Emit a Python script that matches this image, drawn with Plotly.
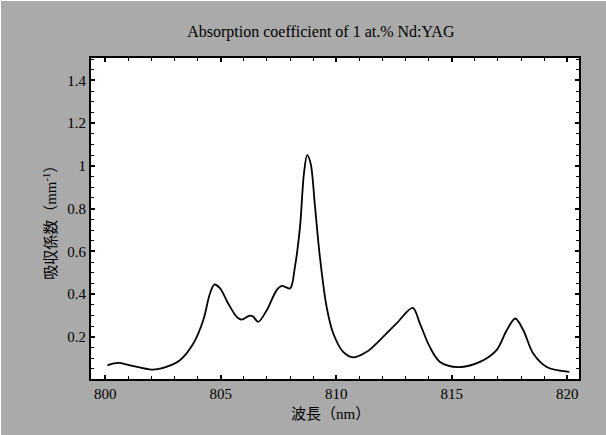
import plotly.graph_objects as go

wavelength_nm = [800.09, 800.56, 801.07, 802.01, 802.51, 803.23, 803.81, 804.24, 804.53, 804.72,
                 804.97, 805.32, 805.69, 805.90, 806.26, 806.41, 806.62, 806.99, 807.42, 807.64,
                 808.00, 808.21, 808.43, 808.60, 808.74, 808.89, 809.08, 809.29, 809.58, 809.87,
                 810.30, 810.74, 811.32, 811.89, 812.61, 813.31, 813.62, 814.05, 814.49, 815.28,
                 816.22, 816.94, 817.38, 817.75, 818.10, 818.53, 819.11, 820.09]
absorption = [0.067, 0.078, 0.067, 0.047, 0.055, 0.091, 0.169, 0.278, 0.403, 0.445,
              0.427, 0.356, 0.294, 0.281, 0.300, 0.294, 0.270, 0.325, 0.419, 0.439,
              0.427, 0.528, 0.715, 0.965, 1.051, 1.012, 0.809, 0.575, 0.341, 0.216,
              0.130, 0.104, 0.130, 0.185, 0.263, 0.336, 0.263, 0.153, 0.083, 0.059,
              0.083, 0.138, 0.231, 0.286, 0.231, 0.122, 0.059, 0.036]

x_tickvals = [800, 805, 810, 815, 820]
x_ticktext = ["800", "805", "810", "815", "820"]
y_tickvals = [0.2, 0.4, 0.6, 0.8, 1.0, 1.2, 1.4]
y_ticktext = ["0.2", "0.4", "0.6", "0.8", "1", "1.2", "1.4"]

title_text = "Absorption coefficient of 1 at.% Nd:YAG"
x_title = "波長（nm）"
y_title = "吸収係数（mm<sup>-1</sup>）"

FONT = "Liberation Serif, 'Noto Sans CJK JP', serif"
GRAY = "#aaaaaa"

fig = go.Figure()
fig.add_trace(go.Scatter(x=wavelength_nm, y=absorption, mode="lines",
                         line=dict(color="black", width=1.8, shape="spline", smoothing=0.9),
                         showlegend=False, hoverinfo="skip"))

axis_common = dict(showline=True, linecolor="black", linewidth=2, mirror="allticks",
                   ticks="inside", ticklen=4, tickwidth=1.5, tickcolor="black",
                   showgrid=False, zeroline=False,
                   tickfont=dict(family=FONT, size=15, color="black"))

fig.update_xaxes(range=[799.38, 820.51], tickvals=x_tickvals, ticktext=x_ticktext,
                 minor=dict(dtick=1, tick0=800, ticks="inside", ticklen=3, tickwidth=1,
                            tickcolor="black", showgrid=False),
                 **axis_common)
fig.update_yaxes(range=[0.003, 1.505], tickvals=y_tickvals, ticktext=y_ticktext,
                 minor=dict(dtick=0.05, tick0=0, ticks="inside", ticklen=3, tickwidth=1,
                            tickcolor="black", showgrid=False),
                 **axis_common)

fig.update_layout(
    width=606, height=435,
    margin=dict(l=90, r=28, t=57, b=57),
    paper_bgcolor=GRAY, plot_bgcolor="white",
    title=dict(text=title_text, x=0.471, xref="paper", xanchor="center",
               y=1 - 30 / 435, yref="container", yanchor="middle",
               font=dict(family=FONT, size=16, color="black")),
    annotations=[
        dict(text=x_title, xref="paper", yref="paper", x=(330 - 91) / 488, y=-(35 / 321),
             xanchor="center", yanchor="middle", showarrow=False,
             font=dict(family=FONT, size=15, color="black")),
        dict(text=y_title, xref="paper", yref="paper", x=(49.3 - 91) / 488, y=0.50,
             xanchor="center", yanchor="middle", showarrow=False, textangle=-90,
             font=dict(family=FONT, size=15, color="black")),
    ],
)

fig.write_html("out.html",
               post_script="document.body.style.margin='1px 0 0 1px';document.body.style.overflow='hidden';")
